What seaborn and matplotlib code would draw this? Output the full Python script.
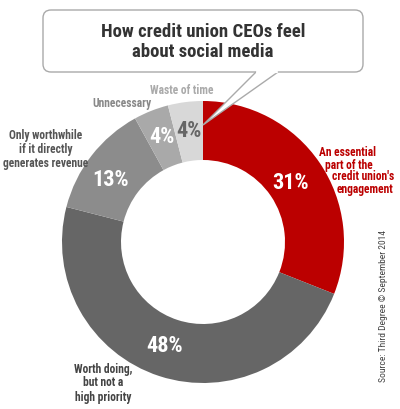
import matplotlib
matplotlib.use("Agg")
import matplotlib.pyplot as plt
import seaborn as sns
from matplotlib import font_manager
from matplotlib.patches import FancyBboxPatch, Polygon

# data
categories = ["An essential\npart of the\ncredit union's\nengagement",
              "Worth doing,\nbut not a\nhigh priority",
              "Only worthwhile\nif it directly\ngenerates revenue",
              "Unnecessary",
              "Waste of time"]
shares = [31, 48, 13, 4, 4]
pct_labels = ["31%", "48%", "13%", "4%", "4%"]
colors = ["#bb0000", "#666666", "#8c8c8c", "#a9a9a9", "#d8d8d8"]
title = "How credit union CEOs feel\nabout social media"
source = "Source: Third Degree © September 2014"

sns.set_theme(style="white")

# pick a narrow face if one is around
fonts = font_manager.fontManager.ttflist
names = {f.name for f in fonts}
stretch = "normal"
if "Roboto Condensed" in names:
    fam, scale = "Roboto Condensed", 1.0
elif any(f.name == "DejaVu Sans" and f.stretch == "condensed" for f in fonts):
    fam, scale, stretch = "DejaVu Sans", 0.92, "condensed"
elif "Liberation Sans Narrow" in names:
    fam, scale = "Liberation Sans Narrow", 1.0
else:
    fam, scale = "Roboto", 0.8
plt.rcParams['font.family'] = [fam, 'DejaVu Sans']
plt.rcParams['font.stretch'] = stretch

H = 409
fig = plt.figure(figsize=(4.0, 4.09), dpi=100)
ax = fig.add_axes([0, 0, 1, 1])

cx, cy, r = 203, H - 242, 141
ax.pie(shares, colors=colors, startangle=90, counterclock=False,
       center=(cx, cy), radius=r, frame=True,
       wedgeprops=dict(width=59, linewidth=0))
ax.set_xlim(0, 400)
ax.set_ylim(0, H)
ax.set_aspect("equal")
ax.axis("off")

# percentage labels
pct_pos = [(291, 183), (165, 346), (111, 180), (162, 137), (189, 131)]
pct_col = ["white", "white", "white", "white", "#666666"]
for (x, y), t, c in zip(pct_pos, pct_labels, pct_col):
    ax.text(x, H - y, t, ha="center", va="center", color=c,
            fontsize=16 * scale, fontweight="bold")

lab_fs = 8.3 * scale
# red label follows the ring edge, one line at a time
red_x = [319, 325, 332, 337]
red_y = [153, 165, 177, 189]
for line, x, y in zip(categories[0].split("\n"), red_x, red_y):
    ax.text(x, H - y, line, ha="left", va="center", color="#bb0000",
            fontsize=lab_fs, fontweight="bold")

# other category labels
cat_pos = [(103, 383), (46, 150), (122, 103), (182, 91)]
cat_col = ["#444444", "#555555", "#888888", "#aaaaaa"]
for (x, y), t, c in zip(cat_pos, categories[1:], cat_col):
    ax.text(x, H - y, t, ha="center", va="center", color=c,
            fontsize=lab_fs, fontweight="bold", linespacing=1.1)

# callout box
box = FancyBboxPatch((43, H - 72), 320, 62, boxstyle="round,pad=0,rounding_size=8",
                     facecolor="white", edgecolor="#aaaaaa", linewidth=1, zorder=5)
ax.add_patch(box)
tail = Polygon([(256, H - 72), (203, H - 125), (278, H - 72)], closed=False,
               facecolor="white", edgecolor="#aaaaaa", linewidth=1, zorder=6)
ax.add_patch(tail)
ax.plot([257, 277], [H - 72, H - 72], color="white", linewidth=1.6, zorder=7)
ax.text(203, H - 42, title, ha="center", va="center", color="#333333",
        fontsize=13.5 * scale, fontweight="bold", linespacing=1.15, zorder=8)

ax.text(383, H - 306, source, rotation=90, ha="center", va="center",
        color="#444444", fontsize=6.8 * scale)

fig.savefig("out.png", dpi=100)
